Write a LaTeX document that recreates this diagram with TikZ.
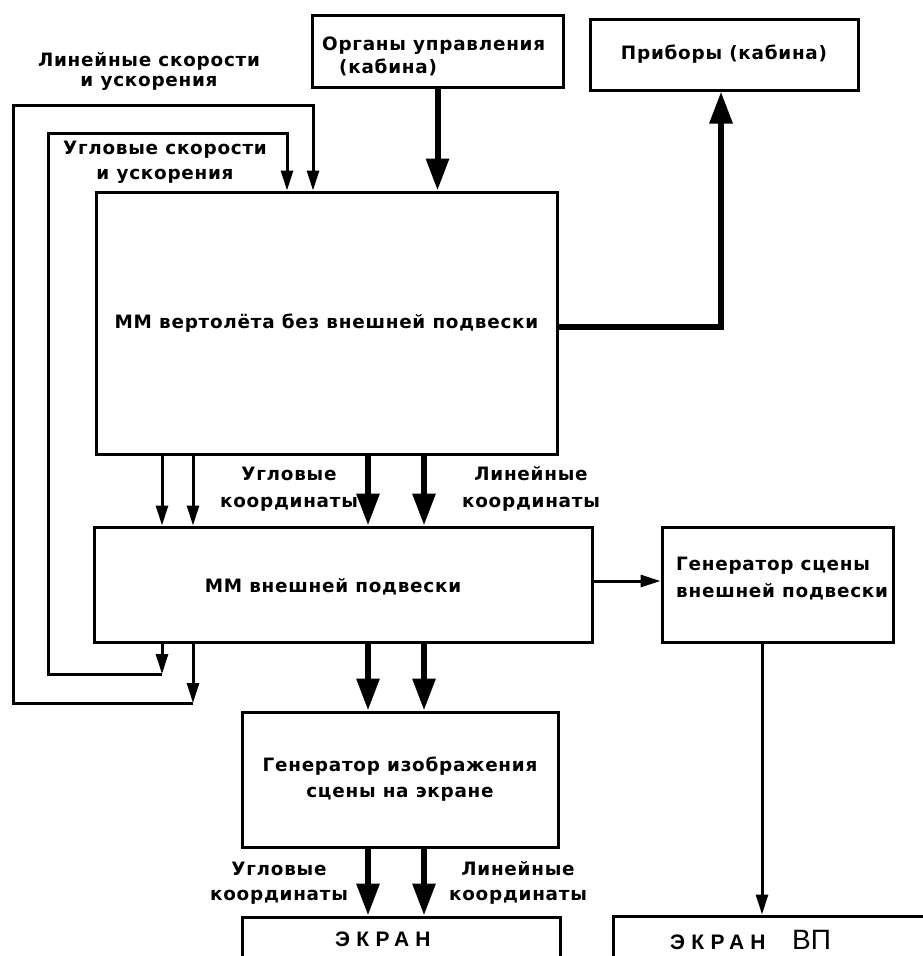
\documentclass[tikz,border=0pt]{standalone}
\usepackage{fontspec}
\usetikzlibrary{arrows.meta}
\newfontfamily\lblfont[LetterSpace=4]{DejaVu Sans}
\newfontfamily\ekrfont[LetterSpace=30]{Liberation Sans}
\newfontfamily\vpfont{Liberation Sans}

\begin{document}
\begin{tikzpicture}[x=1pt,y=-1pt,
  box/.style={draw, line width=3pt, rectangle, inner sep=0pt},
  lbl/.style={font=\lblfont\bfseries\fontsize{18.4}{25}\selectfont, align=center, inner sep=0pt},
  scr/.style={anchor=base west, inner sep=0pt, font=\ekrfont\bfseries\fontsize{21}{24}\selectfont},
  thickarrow/.style={line width=6pt, line join=miter, -{Triangle[length=32pt,width=22pt]}},
  thinarrow/.style={line width=3pt, line join=miter, -{Triangle[length=20pt,width=12pt]}},
]
\useasboundingbox (0,0) rectangle (923,956);
\fill[white] (0,0) rectangle (923,956);
\clip (0,0) rectangle (923,956);

% blocks
\node[box, minimum width=251pt, minimum height=72pt] (org) at (437.5,51) {};
\node[lbl, align=left, anchor=west] (orgtxt) at (322,56) {Органы управления\\[-2pt]\hspace*{17pt}(кабина)};
\node[box, lbl, minimum width=268pt, minimum height=71pt] (prib) at (724,54.5) {Приборы (кабина)};
\node[box, lbl, minimum width=461pt, minimum height=262pt] (main) at (326.5,323) {ММ вертолёта без внешней подвески};
\node[box, minimum width=498pt, minimum height=115pt] (low) at (343,584.5) {};
\node[lbl] (lowtxt) at (333,587) {ММ внешней подвески};
\node[box, minimum width=231pt, minimum height=115pt] (gsc) at (777.5,584.5) {};
\node[lbl, align=left, anchor=west] (gsctxt) at (676,578.5) {Генератор сцены\\[2pt]внешней подвески};
\node[box, lbl, minimum width=316pt, minimum height=135pt] (gim) at (400,779.5) {Генератор изображения\\[1pt]сцены на экране};
\node[box, minimum width=318pt, minimum height=100pt] (ekr) at (401,967) {};
\node[scr] (ekrtxt) at (335,946) {ЭКРАН};
\node[box, minimum width=400pt, minimum height=100pt] (ekvp) at (813,966) {};
\node[scr] (ekvptxt) at (670,949) {ЭКРАН};
\node[anchor=base west, inner sep=0pt, font=\vpfont\fontsize{28}{30}\selectfont] (vptxt) at (792,949) {ВП};

% signal labels
\node[lbl] (linv) at (149,71) {Линейные скорости\\[-5pt]и ускорения};
\node[lbl] (angv) at (165,162) {Угловые скорости\\и ускорения};
\node[lbl] (angc1) at (289,489) {Угловые\\[2pt]координаты};
\node[lbl] (linc1) at (531,489) {Линейные\\[2pt]координаты};
\node[lbl] (angc2) at (279,883) {Угловые\\координаты};
\node[lbl] (linc2) at (518,883) {Линейные\\координаты};

% helper positions for the connectors
\coordinate (xa) at (368,0);
\coordinate (xb) at (424,0);
\coordinate (xi) at (162,0);
\coordinate (xo) at (193,0);
\coordinate (xit) at (287,0);
\coordinate (xot) at (313,0);
\coordinate (xv) at (762,0);
\coordinate (ib) at (162,674);
\coordinate (ob) at (193,703);
\coordinate (ic) at (48,133);
\coordinate (oc) at (13,105);

% control inputs and cockpit instruments
\draw[thickarrow] (org.south) -- (org.south |- main.north);
\draw[thickarrow] ([yshift=-4pt]main.east) -| ([xshift=-3pt]prib.south);

% main model -> sling load model
\draw[thinarrow] (main.south -| xi) -- (low.north -| xi);
\draw[thinarrow] (main.south -| xo) -- (low.north -| xo);
\draw[thickarrow] (main.south -| xa) -- (low.north -| xa);
\draw[thickarrow] (main.south -| xb) -- (low.north -| xb);

% sling load model -> image generator -> screen
\draw[thickarrow] (low.south -| xa) -- (gim.north -| xa);
\draw[thickarrow] (low.south -| xb) -- (gim.north -| xb);
\draw[thickarrow] (gim.south -| xa) -- (ekr.north -| xa);
\draw[thickarrow] (gim.south -| xb) -- (ekr.north -| xb);

% feedback loops
\draw[thinarrow] (low.south -| ib) -- (ib);
\draw[thinarrow] (low.south -| ob) -- (ob);
\draw[thinarrow] (ib) -- (ic |- ib) -- (ic) -| (xit |- main.north);
\draw[thinarrow] (ob) -- (oc |- ob) -- (oc) -| (xot |- main.north);

% sling load scene branch
\draw[thinarrow] ([yshift=3.5pt]low.east) -- ([yshift=3.5pt]gsc.west);
\draw[thinarrow] (gsc.south -| xv) -- (ekvp.north -| xv);
\end{tikzpicture}
\end{document}
